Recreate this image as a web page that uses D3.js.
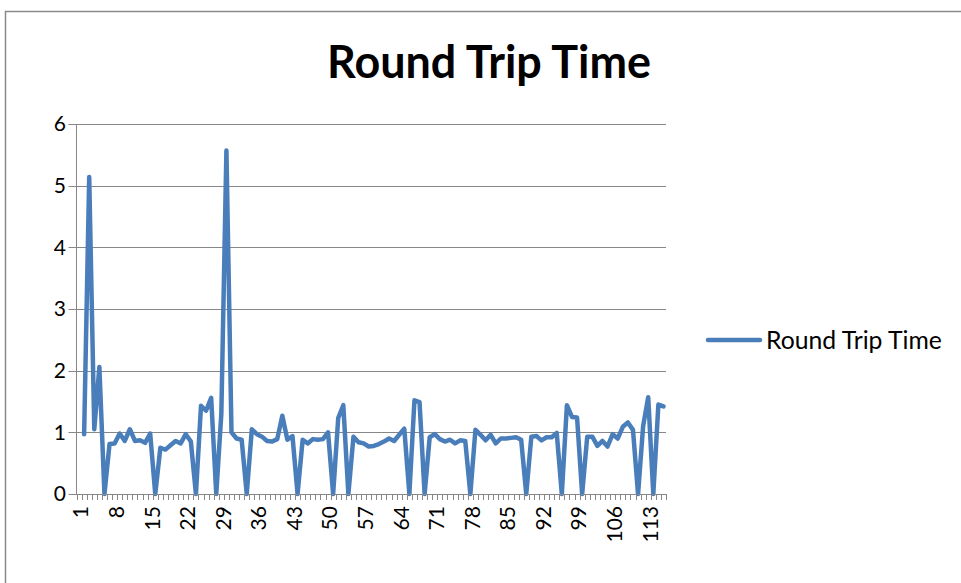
<!DOCTYPE html>
<html>
<head>
<meta charset="utf-8">
<script src="https://cdn.jsdelivr.net/npm/d3@7"></script>
<style>
  html, body { margin: 0; padding: 0; background: #ffffff; }
  svg { display: block; }
  text { font-family: Lato, "Open Sans", "Liberation Sans", sans-serif; }
</style>
</head>
<body>
<svg id="chart" width="961" height="583"></svg>
<script>
// ---------- data ----------
const title = "Round Trip Time";
const seriesName = "Round Trip Time";
const categories = d3.range(1, 117);            // category axis 1..116
const xTickLabels = [1, 8, 15, 22, 29, 36, 43, 50, 57, 64, 71, 78, 85, 92, 99, 106, 113];
const yTicks = [0, 1, 2, 3, 4, 5, 6];
const values = [
  null, 0.97, 5.14, 1.05, 2.06, 0, 0.81, 0.82, 0.98, 0.86,
  1.05, 0.86, 0.87, 0.83, 0.98, 0, 0.75, 0.72, 0.79, 0.86,
  0.82, 0.97, 0.85, 0, 1.43, 1.35, 1.56, 0, 1.3, 5.57,
  1.0, 0.9, 0.88, 0, 1.05, 0.97, 0.93, 0.86, 0.85, 0.89,
  1.27, 0.88, 0.94, 0, 0.88, 0.82, 0.89, 0.88, 0.89, 1.0,
  0, 1.23, 1.44, 0, 0.93, 0.84, 0.82, 0.77, 0.78, 0.81,
  0.85, 0.9, 0.86, 0.96, 1.06, 0, 1.52, 1.49, 0, 0.92,
  0.97, 0.89, 0.85, 0.88, 0.82, 0.87, 0.86, 0, 1.04, 0.96,
  0.87, 0.96, 0.82, 0.9, 0.9, 0.91, 0.92, 0.88, 0, 0.93,
  0.94, 0.87, 0.92, 0.92, 0.99, 0, 1.44, 1.25, 1.24, 0,
  0.93, 0.93, 0.78, 0.86, 0.77, 0.97, 0.9, 1.09, 1.16, 1.04,
  0, 1.1, 1.57, 0, 1.45, 1.42
];

// ---------- layout ----------
const plot = { left: 76.5, right: 666, top: 124, bottom: 494 };
const blue = "#4A7EBB";
const gridCol = "#878787";

const svg = d3.select("#chart");

// chart area border
svg.append("rect")
  .attr("x", 5.5).attr("y", 11.5)
  .attr("width", 1000).attr("height", 1000)
  .attr("fill", "none").attr("stroke", "#8a8a8a").attr("stroke-width", 1.5);

const x = d3.scaleBand().domain(categories).range([plot.left, plot.right]).paddingInner(0).paddingOuter(0);
const y = d3.scaleLinear().domain([0, 6]).range([plot.bottom, plot.top]);
const bw = x.bandwidth();

// gridlines + y tick marks
svg.append("g").selectAll("line").data(yTicks).join("line")
  .attr("x1", plot.left - 8).attr("x2", plot.right)
  .attr("y1", d => Math.round(y(d)) + 0.5).attr("y2", d => Math.round(y(d)) + 0.5)
  .attr("stroke", gridCol).attr("stroke-width", 1);

// y axis line
svg.append("line")
  .attr("x1", plot.left).attr("x2", plot.left)
  .attr("y1", plot.top).attr("y2", plot.bottom + 0.5)
  .attr("stroke", gridCol).attr("stroke-width", 1);

// y tick labels
svg.append("g").selectAll("text").data(yTicks).join("text")
  .attr("x", 66).attr("y", d => y(d))
  .attr("dy", "0.35em")
  .attr("text-anchor", "end")
  .attr("font-size", 21)
  .attr("fill", "#000")
  .text(d => d);

// x tick marks at band boundaries
const boundaries = categories.map(c => x(c)).concat([x(categories[categories.length - 1]) + bw]);
svg.append("g").selectAll("line").data(boundaries).join("line")
  .attr("x1", d => Math.round(d) + 0.5).attr("x2", d => Math.round(d) + 0.5)
  .attr("y1", plot.bottom).attr("y2", plot.bottom + 6)
  .attr("stroke", gridCol).attr("stroke-width", 1);

// series line
const pts = categories.map((c, i) => ({ c, v: values[i] }));
const line = d3.line()
  .defined(d => d.v != null)
  .x(d => x(d.c) + bw / 2)
  .y(d => y(d.v));
svg.append("path")
  .datum(pts)
  .attr("d", line)
  .attr("fill", "none")
  .attr("stroke", blue)
  .attr("stroke-width", 4.5)
  .attr("stroke-linejoin", "round")
  .attr("stroke-linecap", "round");

// x axis line
svg.append("line")
  .attr("x1", plot.left).attr("x2", plot.right)
  .attr("y1", plot.bottom + 0.5).attr("y2", plot.bottom + 0.5)
  .attr("stroke", gridCol).attr("stroke-width", 1);

// x tick labels (rotated)
svg.append("g").selectAll("text").data(xTickLabels).join("text")
  .attr("transform", d => `translate(${x(d) + bw / 2 + 2},${plot.bottom + 12}) rotate(-90)`)
  .attr("text-anchor", "end")
  .attr("dy", "0.35em")
  .attr("font-size", 21)
  .attr("fill", "#000")
  .text(d => d);

// title
const t = svg.append("text")
  .attr("x", 489).attr("y", 78)
  .attr("text-anchor", "middle")
  .attr("font-weight", "bold")
  .attr("font-size", 40)
  .attr("fill", "#000")
  .text(title);
const tw = t.node().getComputedTextLength();
t.attr("font-size", 40 * 324 / tw);

// legend
svg.append("line")
  .attr("x1", 708).attr("x2", 760)
  .attr("y1", 340).attr("y2", 340)
  .attr("stroke", blue).attr("stroke-width", 4.5).attr("stroke-linecap", "round");
const lt = svg.append("text")
  .attr("x", 766).attr("y", 340)
  .attr("dy", "0.35em")
  .attr("font-size", 22)
  .attr("fill", "#000")
  .text(seriesName);
const lw = lt.node().getComputedTextLength();
lt.attr("font-size", 22 * 176 / lw);
</script>
</body>
</html>
